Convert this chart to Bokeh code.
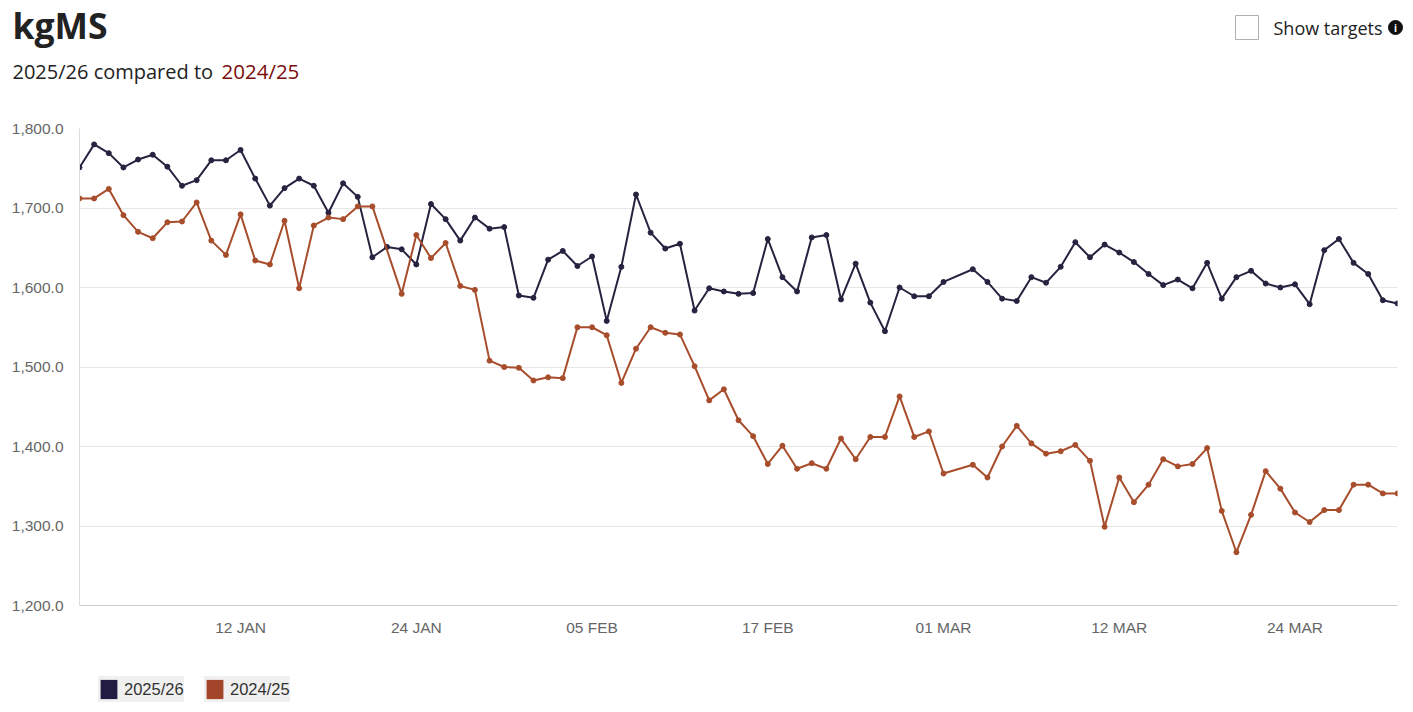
from bokeh.plotting import figure
from bokeh.layouts import column
from bokeh.models import (Range1d, FixedTicker, NumeralTickFormatter, Label,
                          Legend, LegendItem)
from bokeh.core.properties import value
from bokeh.embed import file_html
from bokeh.resources import INLINE

# ---------------- data ----------------
series_names = ["2025/26", "2024/25"]

# day offsets (days since 1 Jan) of each reading
days_2526 = [0, 1, 2, 3, 4, 5, 6, 7, 8, 9, 10, 11, 12, 13, 14, 15, 16, 17, 18, 19,
             20, 21, 22, 23, 24, 25, 26, 27, 28, 29, 30, 31, 32, 33, 34, 35, 36, 37, 38, 39,
             40, 41, 42, 43, 44, 45, 46, 47, 48, 49, 50, 51, 52, 53, 54, 55, 56, 57, 58, 59,
             61, 62, 63, 64, 65, 66, 67, 68, 69, 70, 71, 72, 73, 74, 75, 76, 77, 78, 79, 80,
             81, 82, 83, 84, 85, 86, 87, 88, 89, 90]
kgms_2526 = [1751, 1780, 1769, 1751, 1761, 1767, 1752, 1728, 1735, 1760,
             1760, 1773, 1737, 1703, 1725, 1737, 1728, 1694, 1731, 1714,
             1638, 1651, 1648, 1629, 1705, 1686, 1659, 1688, 1674, 1676,
             1590, 1587, 1635, 1646, 1627, 1639, 1558, 1626, 1717, 1669,
             1649, 1655, 1571, 1599, 1595, 1592, 1593, 1661, 1613, 1595,
             1663, 1666, 1585, 1630, 1581, 1545, 1600, 1589, 1589, 1607,
             1623, 1607, 1586, 1583, 1613, 1606, 1626, 1657, 1638, 1654,
             1644, 1632, 1617, 1603, 1610, 1599, 1631, 1586, 1613, 1621,
             1605, 1600, 1604, 1579, 1647, 1661, 1631, 1617, 1584, 1580]

days_2425 = [0, 1, 2, 3, 4, 5, 6, 7, 8, 9, 10, 11, 12, 13, 14, 15, 16, 17, 18, 19,
             20, 22, 23, 24, 25, 26, 27, 28, 29, 30, 31, 32, 33, 34, 35, 36, 37, 38, 39,
             40, 41, 42, 43, 44, 45, 46, 47, 48, 49, 50, 51, 52, 53, 54, 55, 56, 57, 58, 59,
             61, 62, 63, 64, 65, 66, 67, 68, 69, 70, 71, 72, 73, 74, 75, 76, 77, 78, 79, 80,
             81, 82, 83, 84, 85, 86, 87, 88, 89, 90]
kgms_2425 = [1712, 1712, 1724, 1691, 1670, 1662, 1682, 1683, 1707, 1659,
             1641, 1692, 1634, 1629, 1684, 1599, 1678, 1688, 1686, 1702,
             1702, 1592, 1666, 1637, 1656, 1602, 1597, 1508, 1500, 1499,
             1483, 1487, 1486, 1550, 1550, 1540, 1480, 1523, 1550, 1543,
             1541, 1501, 1458, 1472, 1433, 1413, 1378, 1401, 1372, 1379,
             1372, 1410, 1384, 1412, 1412, 1463, 1412, 1419, 1366,
             1377, 1361, 1400, 1426, 1404, 1391, 1394, 1402, 1382, 1299,
             1361, 1330, 1352, 1384, 1375, 1378, 1398, 1319, 1267, 1314,
             1369, 1347, 1317, 1305, 1320, 1320, 1352, 1352, 1341, 1341]

tick_days = [11, 23, 35, 47, 59, 71, 83]
tick_labels = ["12 JAN", "24 JAN", "05 FEB", "17 FEB", "01 MAR", "12 MAR", "24 MAR"]
y_ticks = [1200, 1300, 1400, 1500, 1600, 1700, 1800]

# ---------------- styling / layout ----------------
W = 1413
HEAD_H, MAIN_H, FOOT_H = 100, 550, 62
FL, FR = 79, 1397          # chart frame left / right (px)
FT, FB = 28, 505           # chart frame top / bottom inside main figure (px)
X0, X1 = 0, 90
Y0, Y1 = 1200, 1800
NAVY = "#27223f"
ORANGE = "#a84d2c"
NAVY_SW = "#221c42"
ORANGE_SW = "#a3452a"
AXIS_FONT = "'Liberation Sans', Arial, sans-serif"
HEAD_FONT = "'Open Sans', sans-serif"


def strip(height):
    """A figure whose frame fills it, in page pixels (y down)."""
    f = figure(width=W, height=height, output_backend="svg", toolbar_location=None,
               x_range=Range1d(0, W), y_range=Range1d(height, 0),
               x_axis_type=None, y_axis_type=None,
               min_border_left=0, min_border_right=0,
               min_border_top=0, min_border_bottom=0)
    if "frame_align" in f.properties():
        f.frame_align = False
    f.outline_line_color = None
    f.xgrid.grid_line_color = None
    f.ygrid.grid_line_color = None
    f.background_fill_color = "white"
    f.border_fill_color = "white"
    return f


# ---------------- header ----------------
head = strip(HEAD_H)
head.add_layout(Label(x=12, y=24.5, text="kgMS", text_font=HEAD_FONT,
                      text_font_style="bold", text_font_size="35.5px",
                      text_color="#222222", text_baseline="middle"))
head.add_layout(Label(x=12, y=70.5, text="2025/26 compared to", text_font=HEAD_FONT,
                      text_font_size="20px", text_color="#222222",
                      text_baseline="middle"))
head.add_layout(Label(x=221, y=70.5, text="2024/25", text_font=HEAD_FONT,
                      text_font_size="20.5px", text_color="#7b0c0c",
                      text_baseline="middle"))
# "Show targets" checkbox
head.quad(left=[1235], right=[1258], top=[15], bottom=[39],
          fill_color="white", line_color="#b0b0b0", line_width=1)
head.add_layout(Label(x=1273, y=27, text="Show targets", text_font=HEAD_FONT,
                      text_font_size="18px", text_color="#222222",
                      text_baseline="middle"))
head.scatter(x=[1395], y=[27], size=14, color="#111111")
head.add_layout(Label(x=1395, y=27.5, text="i", text_font=HEAD_FONT,
                      text_font_style="bold", text_font_size="10px",
                      text_color="white", text_align="center", text_baseline="middle"))

# ---------------- main chart ----------------
p = figure(width=W, height=MAIN_H, output_backend="svg", toolbar_location=None,
           x_range=Range1d(X0, X1), y_range=Range1d(Y0, Y1),
           min_border_left=FL, min_border_right=W - FR,
           min_border_top=FT, min_border_bottom=MAIN_H - FB)
if "frame_align" in p.properties():
    p.frame_align = False
p.outline_line_color = None
p.background_fill_color = "white"
p.border_fill_color = "white"

p.xaxis.ticker = FixedTicker(ticks=tick_days)
p.xaxis.major_label_overrides = {d: t for d, t in zip(tick_days, tick_labels)}
p.yaxis.ticker = FixedTicker(ticks=y_ticks)
p.yaxis.formatter = NumeralTickFormatter(format="0,0.0")
for ax in (p.xaxis[0], p.yaxis[0]):
    ax.major_tick_line_color = None
    ax.minor_tick_line_color = None
    ax.major_label_text_color = "#666666"
    ax.major_label_text_font = AXIS_FONT
    ax.major_label_text_font_size = "15.5px"
p.xaxis.axis_line_color = "#cccccc"
p.yaxis.axis_line_color = "#dddddd"
p.xaxis.major_label_standoff = 7
p.yaxis.major_label_standoff = 10
p.xgrid.grid_line_color = None
p.ygrid.grid_line_color = "#e6e6e6"

p.line(days_2526, kgms_2526, line_color=NAVY, line_width=2)
p.scatter(days_2526, kgms_2526, size=5, color=NAVY)
p.line(days_2425, kgms_2425, line_color=ORANGE, line_width=2)
p.scatter(days_2425, kgms_2425, size=5, color=ORANGE)

# ---------------- footer legend ----------------
foot = strip(FOOT_H)
# swatch renderers: one row each, placed outside the visible range (never drawn)
sw1 = foot.quad(left=[-20], right=[-10], top=[-20], bottom=[-10],
                fill_color=NAVY_SW, line_color=None)
sw2 = foot.quad(left=[-20], right=[-10], top=[-20], bottom=[-10],
                fill_color=ORANGE_SW, line_color=None)
for name, r, locx in ((series_names[0], sw1, 98), (series_names[1], sw2, 204)):
    lg = Legend(items=[LegendItem(label=value(name), renderers=[r])],
                location=(locx, 10), orientation="horizontal",
                padding=6, spacing=0, margin=0,
                glyph_width=21, glyph_height=24, label_height=26, label_standoff=5,
                background_fill_color="#f0f0f0", background_fill_alpha=1,
                border_line_color=None,
                label_text_font=AXIS_FONT, label_text_font_size="16.5px",
                label_text_color="#333333")
    foot.add_layout(lg)

page = column(head, p, foot, spacing=0)
open("out.html", "w").write(file_html(page, INLINE))
